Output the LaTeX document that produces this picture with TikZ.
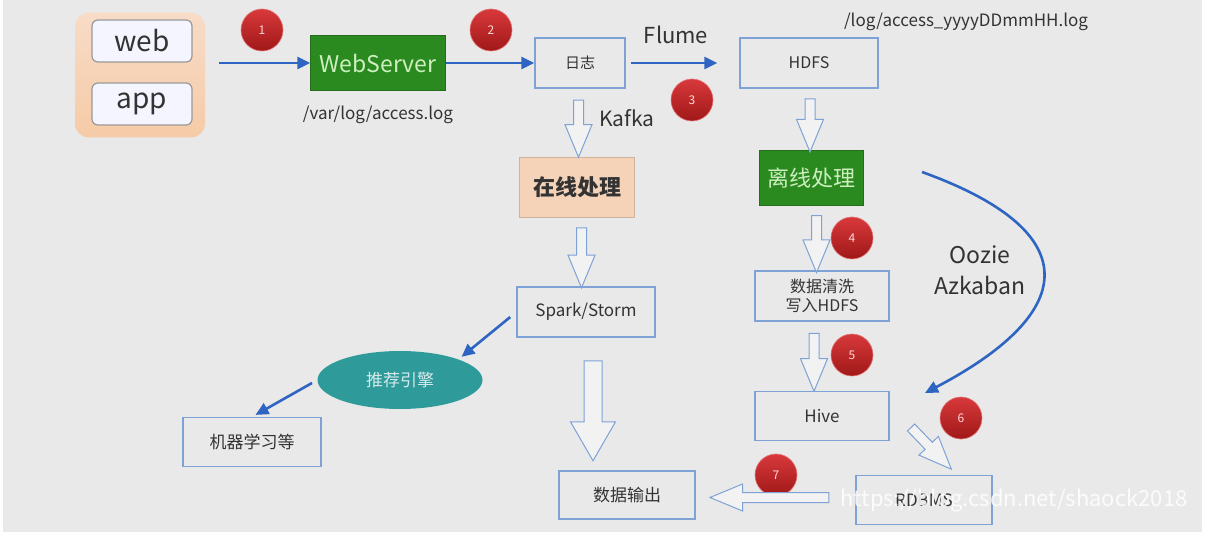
\documentclass[tikz,border=0pt]{standalone}
\usepackage{fontspec}
\setmainfont{Noto Sans CJK SC}
\usepackage{xcolor}
\usepackage{tikz}
\usetikzlibrary{positioning, shapes, shapes.arrows, arrows.meta, shadings}

\definecolor{bg}{HTML}{E9E9E9}
\definecolor{boxline}{HTML}{7EA2D6}
\definecolor{flowblue}{HTML}{2F65C2}
\definecolor{wsgreen}{HTML}{2B8A1F}
\definecolor{wstext}{HTML}{CDEFC0}
\definecolor{peach}{HTML}{F5D3B9}
\definecolor{recteal}{HTML}{2E9A9A}
\definecolor{numtop}{HTML}{D8393B}
\definecolor{numbot}{HTML}{A01818}
\definecolor{inktext}{HTML}{333333}

\newcommand{\fs}[1]{\fontsize{#1}{#1}\selectfont}

\begin{document}
\begin{tikzpicture}[x=1pt, y=-1pt,
          every node/.style={text=inktext, font=\fs{17}},
          box/.style={rectangle, draw=boxline, line width=1.2pt, fill=bg,
                      minimum width=136pt, minimum height=49pt, align=center},
          greenbox/.style={rectangle, fill=wsgreen, text=wstext, draw=wsgreen!80!black},
          small/.style={rectangle, rounded corners=6pt, draw=black!40, line width=1.2pt,
                        fill=blue!4!white, minimum width=100pt, minimum height=42pt, font=\fs{28}},
          num/.style={circle, top color=numtop, bottom color=numbot, draw=numtop!70!white,
                      line width=0.6pt, minimum size=42pt, inner sep=0pt,
                      text=white!85!red, font=\fs{12}},
          flow/.style={draw=flowblue, line width=2.6pt, -{Triangle[length=13pt, width=12pt]}},
          harrow/.style={single arrow, draw=boxline, line width=1pt, fill=white!40!bg,
                         single arrow head indent=0pt, single arrow tip angle=45,
                         inner xsep=0pt, inner ysep=4.5pt, single arrow head extend=8.5pt}]
          \fill[white] (0,0) rectangle (1214,537);
          \fill[bg] (3,0) rectangle (1202,532);
          \useasboundingbox (0,0) rectangle (1214,537);

          \node[rectangle, rounded corners=14pt, top color=peach!80!white, bottom color=peach!90!orange,
                minimum width=130pt, minimum height=125pt] (client) at (140,75) {};
          \node[small] (web) at (142,41) {web};
          \node[small] (app) at (142,104) {app};

          \node[greenbox, minimum width=135pt, minimum height=55pt, font=\fs{23}] (ws) at (378,63) {WebServer};
          \node (varlog) at (378,115) {/var/log/access.log};
          \node[box, minimum width=90pt, minimum height=50pt, font=\fs{15}] (log) at (580,63) {日志};
          \node[font=\fs{22}] (flume) at (676,35) {Flume};
          \node[box, minimum width=138pt, minimum height=50pt, font=\fs{16}] (hdfs) at (809,63) {HDFS};
          \node (hdfspath) at (966,22) {/log/access\_yyyyDDmmHH.log};
          \node[font=\fs{21}] (kafka) at (627,118) {Kafka};

          \node[rectangle, fill=peach, draw=peach!85!black, minimum width=115pt, minimum height=60pt,
                font=\fs{22}\bfseries] (online) at (577,187) {在线处理};
          \node[box, minimum width=138pt, minimum height=50pt] (spark) at (586,312) {Spark/Storm};
          \node[ellipse, fill=recteal, text=white!80!recteal, minimum width=165pt, minimum height=58pt]
                (rec) at (400,380) {推荐引擎};
          \node[box, minimum width=138pt] (ml) at (252,442) {机器学习等};
          \node[box, minimum width=136pt, minimum height=48pt] (out) at (627,495) {数据输出};

          \node[greenbox, minimum width=104pt, minimum height=55pt, font=\fs{22}] (offline) at (811,178) {离线处理};
          \node[box, minimum width=134pt, minimum height=50pt, font=\fs{16}] (clean) at (822,296) {数据清洗\\[3pt]写入HDFS};
          \node[box, minimum width=134pt, minimum height=49pt] (hive) at (822,416) {Hive};
          \node[box, minimum width=136pt, minimum height=49pt] (rdbms) at (924,500) {RDBMS};
          \node[align=center, font=\fs{23}] (oozie) at (980,270) {Oozie\\[8pt]Azkaban};

          \node[num] (n1) at (262,30) {1};
          \node[num] (n2) at (491,30) {2};
          \node[num] (n3) at (692,100) {3};
          \node[num] (n4) at (852,238) {4};
          \node[num] (n5) at (852,355) {5};
          \node[num] (n6) at (961,418) {6};
          \node[num] (n7) at (776,475) {7};

          \coordinate (ozstart) at (922,172);
          \coordinate (ozend) at (925,393);

          \draw[flow, shorten <=14pt] (client.east |- ws.west) -- (ws.west);
          \draw[flow] (ws.east) -- (log.west);
          \draw[flow, shorten <=5pt, shorten >=22pt] (log.east) -- (hdfs.west);
          \draw[flow, shorten <=8pt, shorten >=4pt] (spark.west) -- (rec.north east);
          \draw[flow, shorten <=6pt, shorten >=4pt] (rec.west) -- (ml.north);
          \draw[flow] (ozstart) .. controls (1083,230) and (1083,310) .. (ozend);

          \path (log.south) -- node[harrow, rotate=-90, minimum height=57pt] {} (online.north);
          \path (online.south) -- node[harrow, rotate=-90, minimum height=60pt] {} (spark.north);
          \path (hdfs.south) -- node[harrow, rotate=-90, minimum height=53pt] {} (offline.north);
          \path (offline.south) -- node[harrow, rotate=-90, minimum height=57pt] {} (clean.north);
          \path ([xshift=-8pt]clean.south) -- node[harrow, rotate=-90, minimum height=58pt] {} ([xshift=-8pt]hive.north);
          \path (rdbms.west) -- node[harrow, rotate=180, minimum height=119pt] {} (out.east);
          \node[harrow, rotate=-90, minimum height=100pt, inner ysep=8.5pt,
                single arrow head extend=13.5pt, single arrow tip angle=60] (sparkout) at (593,403) {};
          \node[harrow, rotate=-46, minimum height=58pt] (hiverdbms) at (927,444) {};

          \node[text=white, opacity=0.85, font=\fs{22}] (mark) at (1014,500) {https://blog.csdn.net/shaock2018};
        \end{tikzpicture}
\end{document}
